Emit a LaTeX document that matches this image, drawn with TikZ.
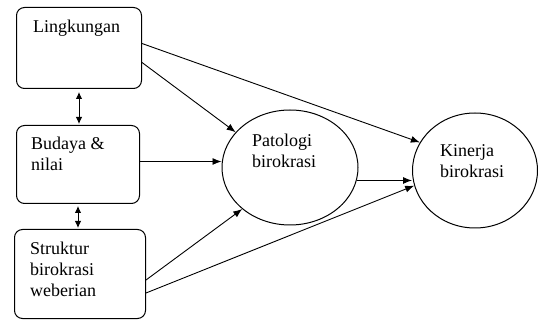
\documentclass[tikz,border=0pt]{standalone}
\usepackage{fontspec}
\setmainfont{Liberation Serif}
\usetikzlibrary{arrows.meta,shapes.geometric}
\begin{document}
\begin{tikzpicture}[x=1pt,y=-1pt,
  box/.style={draw, rounded corners=8pt, line width=1pt, inner sep=0pt, anchor=north west},
  oval/.style={draw, ellipse, line width=1pt, inner sep=0pt},
  lbl/.style={anchor=base west, inner sep=0pt, font=\fontsize{18}{21}\selectfont},
  arr/.style={-{Latex[length=9pt,width=7pt]}, line width=0.9pt},
  darr/.style={{Latex[length=7pt,width=6.5pt]}-{Latex[length=7pt,width=6.5pt]}, line width=0.9pt}]
\useasboundingbox (0,0) rectangle (538,320);
% boxes
\node[box, minimum width=125pt, minimum height=81pt] (b1) at (16,7) {};
\node[box, minimum width=123pt, minimum height=78pt] (b2) at (16,125) {};
\node[box, minimum width=131pt, minimum height=89pt] (b3) at (14,229) {};
% ellipses
\node[oval, minimum width=136pt, minimum height=115pt] (pat) at (290,167.5) {};
\node[oval, minimum width=125pt, minimum height=115pt] (kin) at (475,170.5) {};
% labels
\node[lbl] (t1) at (33,33) {Lingkungan};
\node[lbl] (t2a) at (31,150) {Budaya \&};
\node[lbl] (t2b) at (31,171) {nilai};
\node[lbl] (t3a) at (30,255) {Struktur};
\node[lbl] (t3b) at (30,276) {birokrasi};
\node[lbl] (t3c) at (30,297) {weberian};
\node[lbl] (t4a) at (252,147) {Patologi};
\node[lbl] (t4b) at (252,168) {birokrasi};
\node[lbl] (t5a) at (440,157) {Kinerja};
\node[lbl] (t5b) at (440,178) {birokrasi};
% connectors
\coordinate (c12) at ([yshift=-3pt]b1.south);
\coordinate (c21) at ([yshift=1pt]b1.south |- b2.north);
\draw[darr] (c12) -- (c21);
\coordinate (c23) at ([yshift=-2pt]b2.south);
\coordinate (c32) at ([yshift=1pt]b2.south |- b3.north);
\draw[darr] (c23) -- (c32);
\draw[arr] ([yshift=4.5pt]b1.east) -- (kin.153);
\draw[arr] ([yshift=-14.5pt]b1.east) -- (pat.147);
\draw[arr] ([yshift=3pt]b2.east) -- ([yshift=3pt]b2.east -| pat.west);
\draw[arr] ([yshift=-6pt]b3.east) -- (pat.221);
\draw[arr] ([yshift=-19pt]b3.east) -- (kin.194);
\draw[arr] (pat.349) -- (pat.349 -| kin.west);
\end{tikzpicture}
\end{document}
